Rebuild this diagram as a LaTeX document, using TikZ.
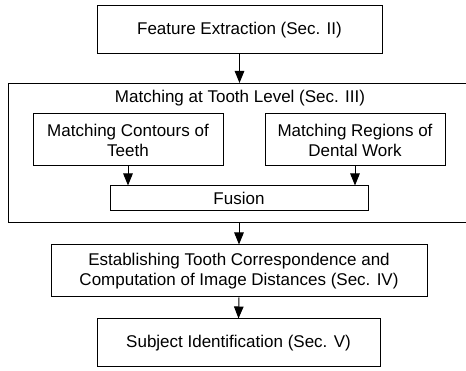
\documentclass[tikz,border=0pt]{standalone}
\usepackage{fontspec}
\setmainfont{Liberation Sans}
\usetikzlibrary{arrows.meta}
\begin{document}
\begin{tikzpicture}[x=1pt,y=-1pt,
  txt/.style={font=\fontsize{17}{20}\selectfont},
  box/.style={draw, line width=1pt, inner sep=0pt, align=center, txt},
  flow/.style={line width=1pt, -{Triangle[width=9.5pt,length=12pt]}}]
\clip (0,0) rectangle (466,371);
\fill[white] (0,0) rectangle (466,371);
% outer stage box, running past the right edge
\node[box, minimum width=462pt, minimum height=139.5pt, anchor=north west] (level) at (8,83) {};
\node[txt] (ltitle) at (240,98) {Matching at Tooth Level (Sec. III)};
% stages
\node[box, minimum width=285pt, minimum height=48pt] (feat) at (239.5,30) {Feature Extraction (Sec. II)};
\node[box, minimum width=190pt, minimum height=52pt] (cont) at (128,140) {Matching Contours of\\Teeth};
\node[box, minimum width=180pt, minimum height=52pt] (dent) at (355,140) {Matching Regions of\\Dental Work};
\node[box, minimum width=258pt, minimum height=25pt] (fus) at (239,198.5) {Fusion};
\node[box, minimum width=376pt, minimum height=52pt] (est) at (239,271) {Establishing Tooth Correspondence and\\Computation of Image Distances (Sec. IV)};
\node[box, minimum width=283pt, minimum height=48pt] (subj) at (238.5,343) {Subject Identification (Sec. V)};
% connectors
\draw[flow] (feat.south) -- (feat.south |- level.north);
\draw[flow] (cont.south) -- (cont.south |- fus.north);
\draw[flow] (dent.south) -- (dent.south |- fus.north);
\draw[flow] (est.north |- level.south) -- (est.north);
\draw[flow] (est.south) -- (subj.north);
\end{tikzpicture}
\end{document}
